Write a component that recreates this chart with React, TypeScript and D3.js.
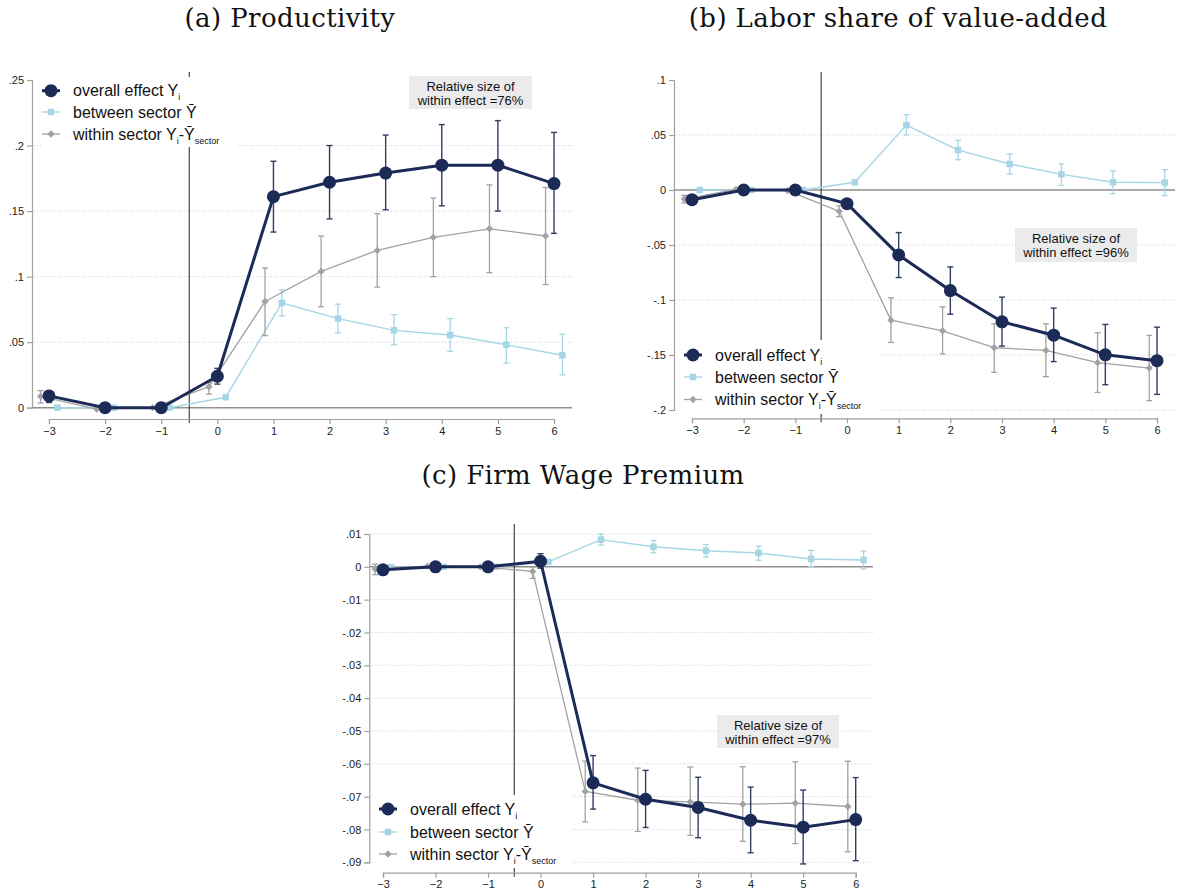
import React, { useEffect, useRef } from "react";
import * as d3 from "d3";

const periods = [-3, -2, -1, 0, 1, 2, 3, 4, 5, 6];

// (a) Productivity
const prodOverall = [0.009, 0, 0, 0.024, 0.161, 0.172, 0.179, 0.185, 0.185, 0.171];
const prodOverallLo = [0.004, null, null, 0.018, 0.134, 0.144, 0.151, 0.154, 0.15, 0.133];
const prodOverallHi = [0.013, null, null, 0.03, 0.188, 0.2, 0.208, 0.216, 0.219, 0.21];
const prodBetween = [0, 0, 0, 0.008, 0.08, 0.068, 0.059, 0.0555, 0.048, 0.04];
const prodBetweenLo = [null, null, null, null, 0.07, 0.057, 0.048, 0.043, 0.034, 0.025];
const prodBetweenHi = [null, null, null, null, 0.09, 0.079, 0.071, 0.068, 0.061, 0.056];
const prodWithin = [0.0087, -0.001, 0, 0.016, 0.081, 0.104, 0.12, 0.13, 0.1365, 0.131];
const prodWithinLo = [0.0036, null, null, 0.0104, 0.055, 0.077, 0.092, 0.1, 0.103, 0.094];
const prodWithinHi = [0.013, null, null, 0.0193, 0.1066, 0.131, 0.148, 0.16, 0.17, 0.168];

// (b) Labor share of value-added
const laborOverall = [-0.0088, 0, 0, -0.0124, -0.059, -0.0914, -0.1198, -0.132, -0.1498, -0.1552];
const laborOverallLo = [null, null, null, null, -0.0796, -0.1129, -0.1419, -0.156, -0.177, -0.1858];
const laborOverallHi = [null, null, null, null, -0.0387, -0.0699, -0.0974, -0.1074, -0.1222, -0.1247];
const laborBetween = [0, 0, 0, 0.007, 0.059, 0.0363, 0.0236, 0.0142, 0.007, 0.0067];
const laborBetweenLo = [null, null, null, null, 0.0502, 0.0275, 0.0145, 0.0042, -0.0033, -0.0051];
const laborBetweenHi = [null, null, null, null, 0.0684, 0.0451, 0.0327, 0.0236, 0.0175, 0.0185];
const laborWithin = [-0.0082, 0.0005, -0.0005, -0.0194, -0.1183, -0.128, -0.1434, -0.1458, -0.157, -0.1619];
const laborWithinLo = [-0.0118, null, null, -0.0242, -0.1386, -0.149, -0.1658, -0.1697, -0.184, -0.1915];
const laborWithinHi = [-0.0048, null, null, -0.0145, -0.098, -0.1062, -0.1216, -0.1216, -0.1298, -0.1322];

// (c) Firm Wage Premium
const wageOverall = [-0.0009, 0, 0, 0.0017, -0.0658, -0.0708, -0.0733, -0.0772, -0.0793, -0.077];
const wageOverallLo = [null, null, null, -0.0004, -0.0738, -0.0794, -0.0825, -0.0871, -0.0905, -0.0895];
const wageOverallHi = [null, null, null, 0.004, -0.0575, -0.062, -0.0641, -0.0671, -0.068, -0.0642];
const wageBetween = [-0.0001, 0, 0, 0.0015, 0.0083, 0.0061, 0.0049, 0.0042, 0.0024, 0.0021];
const wageBetweenLo = [null, null, null, null, 0.0066, 0.0043, 0.003, 0.002, 0.0001, -0.0006];
const wageBetweenHi = [null, null, null, null, 0.01, 0.008, 0.0068, 0.0063, 0.005, 0.0048];
const wageWithin = [-0.0007, 0.0002, 0, -0.0014, -0.0684, -0.0711, -0.0716, -0.0723, -0.072, -0.073];
const wageWithinLo = [-0.0024, null, null, -0.0035, -0.0777, -0.0806, -0.0818, -0.0836, -0.0843, -0.0868];
const wageWithinHi = [0.0008, null, null, -0.0001, -0.0592, -0.0613, -0.061, -0.0609, -0.0594, -0.0592];

const prodTicks = [0, 0.05, 0.1, 0.15, 0.2, 0.25];
const laborTicks = [-0.2, -0.15, -0.1, -0.05, 0, 0.05, 0.1];
const wageTicks = [-0.09, -0.08, -0.07, -0.06, -0.05, -0.04, -0.03, -0.02, -0.01, 0, 0.01];

const navy = "#1b2a56";
const lightBlue = "#a6d5e5";
const gray = "#a2a2a2";
const axisColor = "#a0a0a0";
const font = "'Liberation Sans', Arial, sans-serif";

// stata style labels: .05, -.1, 0
const fmt = (v) => (v === 0 ? "0" : String(Math.round(v * 1000) / 1000).replace(/^(-?)0\./, "$1."));

const panels = [
  {
    title: "(a) Productivity", titleX: 290, titleY: 27,
    xRange: [49, 554], yDomain: [0, 0.25], yRange: [407.7, 80], yTicks: prodTicks,
    grid: [0.05, 0.1, 0.15, 0.2],
    axisX: 32, axisY: 419, right: 572, vTop: 72,
    legend: { x: 42, y: 77, w: 196, h: 70, sx: 51, tx: 73, rows: [90.7, 112, 134] },
    note: { x: 409, y: 76, w: 123, h: 33, text: "within effect =76%" },
    overall: [prodOverall, prodOverallLo, prodOverallHi],
    between: [prodBetween, prodBetweenLo, prodBetweenHi],
    within: [prodWithin, prodWithinLo, prodWithinHi],
  },
  {
    title: "(b) Labor share of value-added", titleX: 898, titleY: 27,
    xRange: [692, 1157], yDomain: [-0.2, 0.1], yRange: [410, 80], yTicks: laborTicks,
    grid: [-0.2, -0.15, -0.1, -0.05, 0.05],
    axisX: 674, axisY: 418.3, right: 1175, vTop: 72,
    legend: { x: 676, y: 340, w: 200, h: 74, sx: 693, tx: 715, rows: [355, 377, 399.5] },
    note: { x: 1015, y: 228, w: 122, h: 34, text: "within effect =96%" },
    overall: [laborOverall, laborOverallLo, laborOverallHi],
    between: [laborBetween, laborBetweenLo, laborBetweenHi],
    within: [laborWithin, laborWithinLo, laborWithinHi],
  },
  {
    title: "(c) Firm Wage Premium", titleX: 583, titleY: 484,
    xRange: [383, 855.7], yDomain: [-0.09, 0.01], yRange: [862.3, 534], yTicks: wageTicks,
    grid: wageTicks.filter((t) => t !== 0),
    axisX: 369.3, axisY: 872.7, right: 873, vTop: 524,
    legend: { x: 372, y: 795, w: 200, h: 73, sx: 388, tx: 410, rows: [809, 832, 854] },
    note: { x: 717, y: 715, w: 122, h: 33, text: "within effect =97%" },
    overall: [wageOverall, wageOverallLo, wageOverallHi],
    between: [wageBetween, wageBetweenLo, wageBetweenHi],
    within: [wageWithin, wageWithinLo, wageWithinHi],
  },
];

const Marker = ({ kind, cx, cy }) => {
  if (kind === "circle") return <circle cx={cx} cy={cy} r={6.5} fill={navy} />;
  const type = kind === "square" ? d3.symbolSquare : d3.symbolDiamond2;
  const size = kind === "square" ? 42 : 34;
  return (
    <path
      d={d3.symbol().type(type).size(size)()}
      transform={`translate(${cx},${cy})`}
      fill={kind === "square" ? lightBlue : gray}
    />
  );
};

const Panel = ({ p }) => {
  const axRef = useRef(null);
  const x = d3.scaleLinear().domain([-3, 6]).range(p.xRange);
  const y = d3.scaleLinear().domain(p.yDomain).range(p.yRange);

  useEffect(() => {
    const g = d3.select(axRef.current);
    g.selectAll("*").remove();
    const ya = g
      .append("g")
      .attr("transform", `translate(${p.axisX},0)`)
      .call(d3.axisLeft(y).tickValues(p.yTicks).tickSize(5).tickSizeOuter(5).tickPadding(3).tickFormat(fmt));
    const xa = g
      .append("g")
      .attr("transform", `translate(0,${p.axisY})`)
      .call(d3.axisBottom(x).tickValues(periods).tickSize(5).tickSizeOuter(5).tickPadding(3).tickFormat(d3.format("d")));
    [ya, xa].forEach((a) => {
      a.attr("font-family", font).attr("font-size", 11);
      a.selectAll("path, line").attr("stroke", axisColor).attr("stroke-width", 1.2);
      a.selectAll("text").attr("fill", "#222");
    });
  });

  const series = [
    { key: "between", d: p.between, dx: 0.15, color: lightBlue, lw: 1.4, kind: "square", barW: 1.3 },
    { key: "within", d: p.within, dx: -0.15, color: gray, lw: 1.3, kind: "diamond", barW: 1.3 },
    { key: "overall", d: p.overall, dx: 0, color: navy, lw: 3, kind: "circle", barW: 1.4 },
  ];

  const lg = p.legend;
  const legendItems = [
    { kind: "circle", color: navy, lw: 3 },
    { kind: "square", color: lightBlue, lw: 1.4 },
    { kind: "diamond", color: gray, lw: 1.3 },
  ];

  return (
    <g>
      <text x={p.titleX} y={p.titleY} textAnchor="middle" fontFamily="'DejaVu Serif', serif" fontSize={26} letterSpacing={0.4} fill="#111">
        {p.title}
      </text>
      {p.grid.map((t) => (
        <line key={t} x1={p.axisX + 2} x2={p.right} y1={y(t)} y2={y(t)} stroke="#cfcfcf" strokeWidth={1} strokeDasharray="1,2" />
      ))}
      <line x1={p.axisX} x2={p.right} y1={y(0)} y2={y(0)} stroke="#8f8f8f" strokeWidth={1.5} />
      <line x1={x(-0.5)} x2={x(-0.5)} y1={p.vTop} y2={p.axisY + 4} stroke="#444" strokeWidth={1.2} />
      <g ref={axRef} />
      <rect x={lg.x} y={lg.y} width={lg.w} height={lg.h} fill="#fff" />
      {legendItems.map((it, i) => (
        <g key={i}>
          <line x1={lg.sx - 9} x2={lg.sx + 9} y1={lg.rows[i]} y2={lg.rows[i]} stroke={it.color} strokeWidth={it.lw} />
          <Marker kind={it.kind} cx={lg.sx} cy={lg.rows[i]} />
        </g>
      ))}
      <g fontFamily={font} fontSize={16} fill="#111">
        <text x={lg.tx} y={lg.rows[0] + 5.5}>
          overall effect Y<tspan fontSize={9} dy={4}>i</tspan>
        </text>
        <text x={lg.tx} y={lg.rows[1] + 5.5}>between sector Ȳ</text>
        <text x={lg.tx} y={lg.rows[2] + 5.5}>
          within sector Y<tspan fontSize={9} dy={4}>i</tspan>
          <tspan dy={-4}>-Ȳ</tspan>
          <tspan fontSize={9} dy={4}>sector</tspan>
        </text>
      </g>
      <rect x={p.note.x} y={p.note.y} width={p.note.w} height={p.note.h} fill="#ebebeb" />
      <g fontFamily={font} fontSize={13} fill="#111" textAnchor="middle">
        <text x={p.note.x + p.note.w / 2} y={p.note.y + 14.5}>Relative size of</text>
        <text x={p.note.x + p.note.w / 2} y={p.note.y + 29}>{p.note.text}</text>
      </g>
      {series.map((s) => {
        const [est, lo, hi] = s.d;
        const line = d3
          .line()
          .x((_, i) => x(periods[i] + s.dx))
          .y((v) => y(v));
        return (
          <g key={s.key}>
            {est.map((_, i) =>
              lo[i] == null ? null : (
                <g key={i} stroke={s.color} strokeWidth={s.barW} opacity={s.key === "overall" ? 0.9 : 1}>
                  <line x1={x(periods[i] + s.dx)} x2={x(periods[i] + s.dx)} y1={y(lo[i])} y2={y(hi[i])} />
                  <line x1={x(periods[i] + s.dx) - 3} x2={x(periods[i] + s.dx) + 3} y1={y(lo[i])} y2={y(lo[i])} />
                  <line x1={x(periods[i] + s.dx) - 3} x2={x(periods[i] + s.dx) + 3} y1={y(hi[i])} y2={y(hi[i])} />
                </g>
              )
            )}
            <path d={line(est)} fill="none" stroke={s.color} strokeWidth={s.lw} strokeLinejoin="round" />
            {est.map((v, i) => (
              <Marker key={i} kind={s.kind} cx={x(periods[i] + s.dx)} cy={y(v)} />
            ))}
          </g>
        );
      })}
    </g>
  );
};

export default function App() {
  useEffect(() => {
    document.body.style.margin = "0";
  }, []);
  return (
    <svg width={1178} height={896} style={{ display: "block", background: "#fff" }}>
      {panels.map((p) => (
        <Panel key={p.title} p={p} />
      ))}
    </svg>
  );
}
